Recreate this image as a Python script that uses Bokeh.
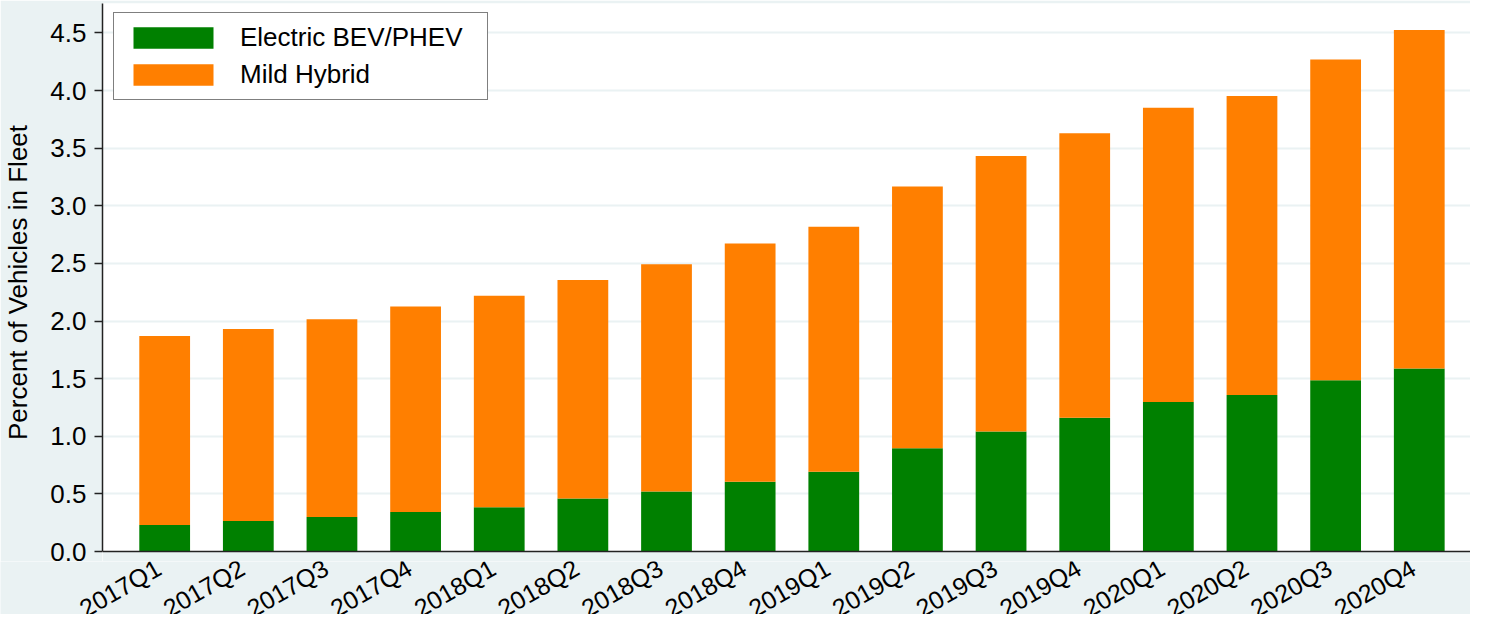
import math
from bokeh.plotting import figure
from bokeh.layouts import column
from bokeh.core.properties import value
from bokeh.models import (ColumnDataSource, FixedTicker, Legend, LegendItem, Range1d,
                          LabelSet, Span, BoxAnnotation)
from bokeh.embed import file_html
from bokeh.resources import INLINE

quarters = ["2017Q1", "2017Q2", "2017Q3", "2017Q4",
            "2018Q1", "2018Q2", "2018Q3", "2018Q4",
            "2019Q1", "2019Q2", "2019Q3", "2019Q4",
            "2020Q1", "2020Q2", "2020Q3", "2020Q4"]
electric = [0.23, 0.265, 0.30, 0.342, 0.384, 0.461, 0.521, 0.606,
            0.692, 0.897, 1.042, 1.161, 1.298, 1.358, 1.486, 1.588]
mild = [1.64, 1.665, 1.715, 1.784, 1.836, 1.896, 1.973, 2.067,
        2.126, 2.271, 2.391, 2.468, 2.553, 2.596, 2.784, 2.938]
y_ticks = [0.0, 0.5, 1.0, 1.5, 2.0, 2.5, 3.0, 3.5, 4.0, 4.5]

xs = list(range(len(quarters)))
total = [e + m for e, m in zip(electric, mild)]
src = ColumnDataSource(dict(x=xs, electric=electric, total=total))
lab_src = ColumnDataSource(dict(x=xs, y=[0.0] * len(xs), text=quarters))

FONT = "Liberation Sans"
BG = "#eaf2f3"

W = 1470
H1, H2 = 561, 53           # main chart, strip holding the quarter labels
TOP_PAD, BELOW0 = 3, 10    # px above plot area / below the zero line in the main chart
LEFT = 102
X0, X1 = -0.7434, 15.6126
Y_TOP = 4.756
plot_h = H1 - TOP_PAD - BELOW0
Y_BOTTOM = -Y_TOP * BELOW0 / plot_h
px_per_unit = (W - LEFT) / (X1 - X0)

p = figure(width=W, height=H1, output_backend="svg", toolbar_location=None,
           x_range=Range1d(X0, X1), y_range=Range1d(Y_BOTTOM, Y_TOP),
           min_border_left=LEFT, min_border_right=0, min_border_top=TOP_PAD,
           min_border_bottom=0)
p.frame_align = False
p.border_fill_color = BG
p.background_fill_color = "white"
p.outline_line_color = None

p.add_layout(BoxAnnotation(top=0, fill_color=BG, fill_alpha=1.0, line_color=None,
                           level="image"))

g = p.vbar(x="x", bottom=0, top="electric", width=0.607, source=src,
           fill_color="#008000", line_color=None)
o = p.vbar(x="x", bottom="electric", top="total", width=0.607, source=src,
           fill_color="#ff7f00", line_color=None)

p.xaxis.visible = False
p.add_layout(Span(location=0, dimension="width", line_color="#222222", line_width=1.5))

p.yaxis.bounds = (0, Y_TOP)
p.yaxis.ticker = FixedTicker(ticks=y_ticks)
p.yaxis.major_label_overrides = {t: f"{t:.1f}" for t in y_ticks}
p.yaxis.major_tick_out = 8
p.yaxis.major_tick_in = 0
p.yaxis.minor_tick_line_color = None
p.yaxis.major_label_standoff = 8
p.yaxis.axis_label = "Percent of Vehicles in Fleet"
p.yaxis.axis_label_standoff = 14
p.yaxis.axis_line_color = "#222222"
p.yaxis.axis_line_width = 1.5
p.yaxis.major_tick_line_color = "#222222"
p.yaxis.major_tick_line_width = 1.5
p.yaxis.major_label_text_font = FONT
p.yaxis.major_label_text_font_size = "26px"
p.yaxis.major_label_text_color = "black"
p.yaxis.axis_label_text_font = FONT
p.yaxis.axis_label_text_font_size = "26px"
p.yaxis.axis_label_text_font_style = "normal"
p.yaxis.axis_label_text_color = "black"

p.xgrid.grid_line_color = None
p.ygrid.ticker = FixedTicker(ticks=y_ticks[1:])
p.ygrid.grid_line_color = BG
p.ygrid.grid_line_width = 2

legend = Legend(items=[LegendItem(label="Electric BEV/PHEV", renderers=[g]),
                       LegendItem(label="Mild Hybrid", renderers=[o])],
                location=(11, (H1 - TOP_PAD) - 11 - 86))
legend.glyph_width = 100
legend.glyph_height = 27
legend.label_height = 27
legend.label_width = 238
legend.label_standoff = 17
legend.padding = 9
legend.spacing = 6
legend.margin = 0
legend.label_text_font = FONT
legend.label_text_font_size = "26px"
legend.label_text_color = "black"
legend.border_line_color = "black"
legend.border_line_width = 1.3
legend.background_fill_color = "white"
legend.background_fill_alpha = 1.0
p.add_layout(legend, "center")

# strip below the chart with the rotated quarter labels (same x scale, full width)
p2 = figure(width=W, height=H2, output_backend="svg", toolbar_location=None,
            x_range=Range1d(X0 - LEFT / px_per_unit, X1), y_range=Range1d(-1, 0),
            min_border_left=0, min_border_right=0, min_border_top=0,
            min_border_bottom=0)
p2.frame_align = False
p2.border_fill_color = BG
p2.background_fill_color = BG
p2.outline_line_color = None
p2.axis.visible = False
p2.grid.visible = False
p2.add_layout(LabelSet(x="x", y="y", text="text", source=lab_src,
                       angle=math.pi / 6, text_align="right",
                       text_baseline="alphabetic",
                       x_offset=-1.5, y_offset=-12,
                       text_font=value(FONT), text_font_size="25px",
                       text_color="black"))

layout = column(p, p2, spacing=0)
open("out.html", "w").write(file_html(layout, INLINE))
